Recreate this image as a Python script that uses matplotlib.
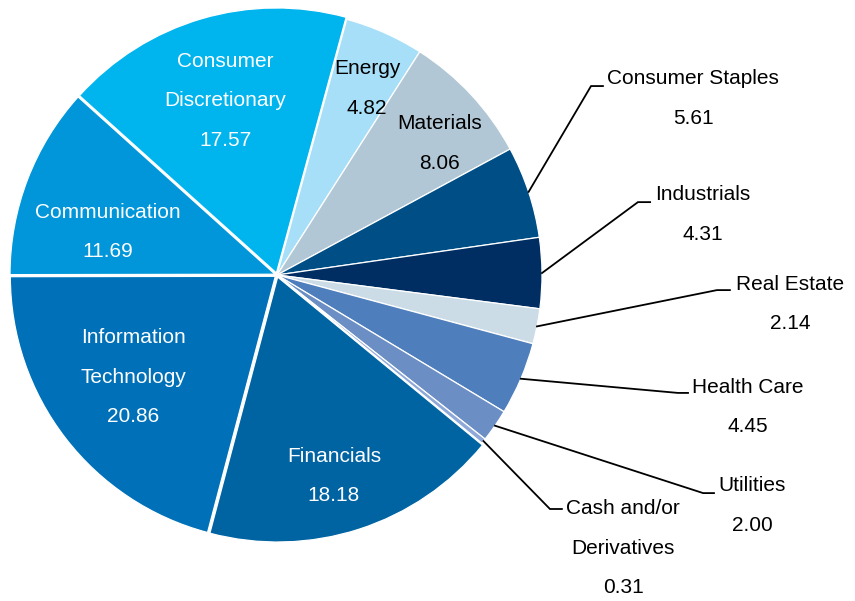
import matplotlib
matplotlib.use("Agg")
import matplotlib.pyplot as plt
import numpy as np

plt.rcParams['font.family'] = ['Liberation Sans', 'DejaVu Sans']

# ---- data ----
sectors = ["Consumer\nDiscretionary", "Energy", "Materials", "Consumer Staples",
           "Industrials", "Real Estate", "Health Care", "Utilities",
           "Cash and/or\nDerivatives", "Financials", "Information\nTechnology",
           "Communication"]
weights = [17.57, 4.82, 8.06, 5.61, 4.31, 2.14, 4.45, 2.00, 0.31, 18.18, 20.86, 11.69]
value_labels = ["17.57", "4.82", "8.06", "5.61", "4.31", "2.14", "4.45", "2.00",
                "0.31", "18.18", "20.86", "11.69"]

# ---- styles / layout ----
colors = ["#00B4EE", "#A7DFF9", "#B2C7D5", "#004E86", "#002E63", "#CCDCE6",
          "#4E7FBC", "#6B8EC4", "#8EA8D8", "#0064A3", "#0071B8", "#0096D9"]
explode = [0.008, 0, 0, 0, 0, 0, 0, 0, 0, 0.008, 0.008, 0.008]
inside = {0: (-0.196, 0.657, "white"), 1: (0.340, 0.704, "black"),
          2: (0.615, 0.496, "black"), 9: (0.215, -0.758, "white"),
          10: (-0.543, -0.385, "white"), 11: (-0.638, 0.162, "white")}
# outside: text center x, first line y, elbow (x, y), horizontal end x
outside = {3: (1.570, 0.740, 1.185, 0.713, 1.230),
           4: (1.608, 0.302, 1.362, 0.275, 1.408),
           5: (1.936, -0.034, 1.660, -0.057, 1.709),
           6: (1.777, -0.423, 1.513, -0.445, 1.551),
           7: (1.792, -0.796, 1.608, -0.823, 1.649),
           8: (1.306, -0.883, 1.030, -0.883, 1.075)}
pitch = 0.149
fs = 15

fig = plt.figure(figsize=(8.55, 6.01), dpi=100)
ax = fig.add_axes([0, 0, 1, 1])
wedges, _ = ax.pie(weights, colors=colors, explode=explode, startangle=138,
                   counterclock=False, radius=1.0,
                   wedgeprops=dict(edgecolor="white", linewidth=0.9))


def block(x, ytop, lines, color):
    for k, ln in enumerate(lines):
        ax.text(x, ytop - k * pitch, ln, ha="center", va="center",
                fontsize=fs, color=color)


for i, (x, yc, col) in inside.items():
    lines = sectors[i].split("\n") + [value_labels[i]]
    ytop = yc + pitch * (len(lines) - 1) / 2
    block(x, ytop, lines, col)

for i, (tx, ty, ex, ey, hx) in outside.items():
    w = wedges[i]
    mid = np.deg2rad((w.theta1 + w.theta2) / 2)
    cx, cy = w.center
    sx, sy = cx + np.cos(mid) * w.r, cy + np.sin(mid) * w.r
    ax.plot([sx, ex, hx], [sy, ey, ey], color="black", lw=1.3, clip_on=False,
            solid_joinstyle="miter")
    lines = sectors[i].split("\n") + [value_labels[i]]
    block(tx, ty, lines, "black")

ax.set_xlim(-277 / 265, (855 - 277) / 265)
ax.set_ylim(-(601 - 275) / 265, 275 / 265)
ax.set_aspect("auto")
ax.axis("off")
fig.savefig("out.png", dpi=100)
